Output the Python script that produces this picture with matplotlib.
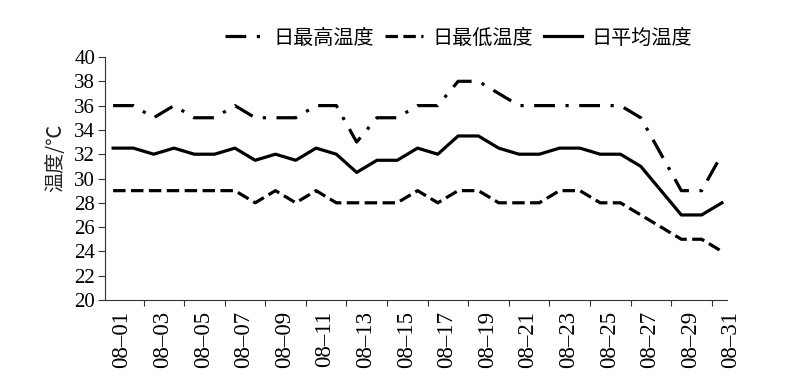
import matplotlib
matplotlib.use("Agg")
import matplotlib.pyplot as plt
import matplotlib.transforms as mtransforms
import numpy as np

days = list(range(1, 32))
date_labels = ["08\u2013%02d" % d for d in range(1, 32, 2)]
tmax = [36, 36, 35, 36, 35, 35, 36, 35, 35, 35, 36, 36, 33, 35, 35, 36,
        36, 38, 38, 37, 36, 36, 36, 36, 36, 36, 35, 32, 29, 29, 32]
tmin = [29, 29, 29, 29, 29, 29, 29, 28, 29, 28, 29, 28, 28, 28, 28, 29,
        28, 29, 29, 28, 28, 28, 29, 29, 28, 28, 27, 26, 25, 25, 24]
tavg = [32.5, 32.5, 32, 32.5, 32, 32, 32.5, 31.5, 32, 31.5, 32.5, 32, 30.5, 31.5, 31.5, 32.5,
        32, 33.5, 33.5, 32.5, 32, 32, 32.5, 32.5, 32, 32, 31, 29, 27, 27, 28]
series_names = ["日最高温度", "日最低温度", "日平均温度"]
yticks = list(range(20, 41, 2))

cjk = ["Noto Sans CJK SC", "DejaVu Sans"]
serif = ["Liberation Serif", "DejaVu Serif"]

fig = plt.figure(figsize=(7.89, 3.88), dpi=100)
ax = fig.add_axes([105/789, 88/388, 622/789, 243/388])

lw = 2.3
l1, = ax.plot(days, tmax, color="black", lw=lw, linestyle=(0, (6.5, 3.3, 1, 3.3)),
              dash_capstyle="butt", solid_joinstyle="miter", label=series_names[0])
l2, = ax.plot(days, tmin, color="black", lw=lw, linestyle=(0, (3.9, 1.7)),
              dash_capstyle="butt", label=series_names[1])
l3, = ax.plot(days, tavg, color="black", lw=lw, linestyle="-", label=series_names[2])

ax.set_xlim(0.6, 31.25)
ax.set_ylim(20, 40)
ax.set_yticks(yticks)
ax.set_yticklabels([str(v) for v in yticks], fontfamily=serif, fontsize=15)

ax.set_xticks(days[::2])
ax.set_xticklabels(date_labels, rotation=90, fontfamily=serif, fontsize=16.5)
ax.tick_params(axis="x", which="major", length=0, pad=8)
ax.set_xticks(np.arange(2.5, 31, 2), minor=True)
ax.tick_params(axis="x", which="minor", length=4, direction="out", width=0.8, color="#333333")
ax.tick_params(axis="y", length=5, direction="out", width=0.8, color="#333333", pad=2)

offset = mtransforms.ScaledTranslation(9/100, 0, fig.dpi_scale_trans)
for lab in ax.get_xticklabels():
    lab.set_transform(lab.get_transform() + offset)

for s in ["top", "right"]:
    ax.spines[s].set_visible(False)
for s in ["left", "bottom"]:
    ax.spines[s].set_linewidth(0.8)
    ax.spines[s].set_color("#333333")

ax.set_ylabel("温度/℃", fontfamily=cjk, fontsize=14.5, color="#222222")
ax.yaxis.set_label_coords(-0.062, 0.584)

fig.legend(handles=[l1, l2, l3], loc="center", bbox_to_anchor=(459/789, 1 - 38/388),
           ncol=3, frameon=False, prop={"family": cjk, "size": 14.5},
           handlelength=1.9, handletextpad=0.5, columnspacing=0.5)

fig.savefig("out.png", dpi=100)
